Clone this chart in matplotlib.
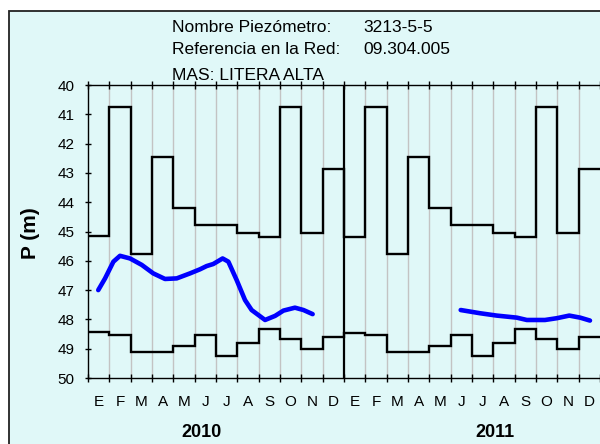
import matplotlib
matplotlib.use('Agg')
import matplotlib.pyplot as plt
import numpy as np
from matplotlib.patches import Rectangle

plt.rcParams['font.family'] = ['Liberation Sans', 'DejaVu Sans']

# ---------------- data ----------------
month_labels = ['E', 'F', 'M', 'A', 'M', 'J', 'J', 'A', 'S', 'O', 'N', 'D']
years = ['2010', '2011']

# monthly step series (m), Jan 2010 .. Dec 2011
upper_2010 = [45.15, 40.74, 45.77, 42.45, 44.19, 44.77, 44.77, 45.05, 45.18, 40.74, 45.05, 42.87]
upper_2011 = [45.18, 40.74, 45.77, 42.46, 44.20, 44.77, 44.77, 45.06, 45.20, 40.74, 45.06, 42.87]
lower_2010 = [48.44, 48.53, 49.10, 49.10, 48.90, 48.53, 49.25, 48.82, 48.32, 48.68, 49.02, 48.61]
lower_2011 = [48.45, 48.53, 49.10, 49.10, 48.90, 48.53, 49.25, 48.82, 48.32, 48.68, 49.02, 48.61]

# measured level (time in months since 1 Jan 2010, value in m)
meas_2010_t = [0.48, 0.80, 1.19, 1.50, 1.97, 2.52, 3.06, 3.61, 4.16, 4.78, 5.25, 5.56,
               5.87, 6.31, 6.58, 6.97, 7.36, 7.67, 8.30, 8.77, 9.16, 9.70, 10.10, 10.53]
meas_2010_v = [47.00, 46.60, 46.03, 45.83, 45.92, 46.14, 46.43, 46.62, 46.60, 46.43, 46.29, 46.18,
               46.11, 45.92, 46.03, 46.66, 47.34, 47.68, 48.02, 47.88, 47.70, 47.60, 47.68, 47.82]
meas_2011_t = [17.47, 18.38, 19.16, 20.10, 20.57, 21.42, 21.97, 22.56, 23.07, 23.53]
meas_2011_v = [47.68, 47.79, 47.87, 47.94, 48.02, 48.02, 47.96, 47.87, 47.94, 48.04]

yticks = list(range(40, 51))

# ---------------- figure ----------------
W, H = 600, 444
fig = plt.figure(figsize=(W / 100, H / 100), dpi=100)
fig.patch.set_facecolor('white')
bg = Rectangle((9 / W, -0.1), 1.2, (1 - 11 / H) + 0.1, transform=fig.transFigure,
               facecolor='#e0f8f8', edgecolor='#222222', lw=1.3, zorder=-10)
fig.add_artist(bg)

ax = fig.add_axes([88 / W, 1 - 378 / H, 1 - 88 / W, (378 - 85) / H])
ax.set_facecolor('none')

n = 24
edges = np.arange(n + 1)

# grid lines at month boundaries
for k in range(1, n):
    if k == 12:
        continue
    ax.axvline(k, color='#c3c3c3', lw=1.0, zorder=0)
ax.axvline(12, color='black', lw=1.6, zorder=3)

ax.stairs(upper_2010 + upper_2011, edges, baseline=None, color='black', lw=1.7, zorder=2)
ax.stairs(lower_2010 + lower_2011, edges, baseline=None, color='black', lw=1.7, zorder=2)

ax.plot(meas_2010_t, meas_2010_v, color='#0000ff', lw=3.3, solid_capstyle='round',
        solid_joinstyle='round', zorder=4)
ax.plot(meas_2011_t, meas_2011_v, color='#0000ff', lw=3.3, solid_capstyle='round',
        solid_joinstyle='round', zorder=4)

ax.set_xlim(0, n)
ax.set_ylim(50, 40)

ax.set_xticks(edges)
ax.set_xticklabels([])
ax.set_xticks(np.arange(n) + 0.5, minor=True)
ax.set_xticklabels(month_labels * 2, minor=True, fontsize=11)
ax.tick_params(axis='x', which='major', direction='inout', length=6, width=1,
               top=True, bottom=True, color='black')
ax.tick_params(axis='x', which='minor', length=0, pad=12)

ax.set_yticks(yticks)
ax.set_yticklabels([str(v) for v in yticks], fontsize=11)
ax.tick_params(axis='y', which='major', direction='inout', length=5, width=1, pad=7)

for s in ['left', 'top', 'bottom']:
    ax.spines[s].set_linewidth(1.0)
    ax.spines[s].set_color('black')
ax.spines['right'].set_visible(False)

# year labels
fig.text(201 / W, 1 - 432 / H, years[0], fontsize=13, fontweight='bold', ha='center', va='center')
fig.text(495 / W, 1 - 432 / H, years[1], fontsize=13, fontweight='bold', ha='center', va='center')

# axis label
fig.text(31 / W, 1 - 233 / H, 'P (m)', rotation=90, fontsize=15, fontweight='bold',
         ha='center', va='center')

# header
fig.text(172 / W, 1 - 27 / H, 'Nombre Piezómetro:', fontsize=12.5, ha='left', va='center')
fig.text(363 / W, 1 - 27 / H, '3213-5-5', fontsize=12.5, ha='left', va='center')
fig.text(172 / W, 1 - 50 / H, 'Referencia en la Red:', fontsize=12.5, ha='left', va='center')
fig.text(363 / W, 1 - 50 / H, '09.304.005', fontsize=12.5, ha='left', va='center')
fig.text(172 / W, 1 - 75 / H, 'MAS: LITERA ALTA', fontsize=12.5, ha='left', va='center')

fig.savefig('out.png', dpi=100)
